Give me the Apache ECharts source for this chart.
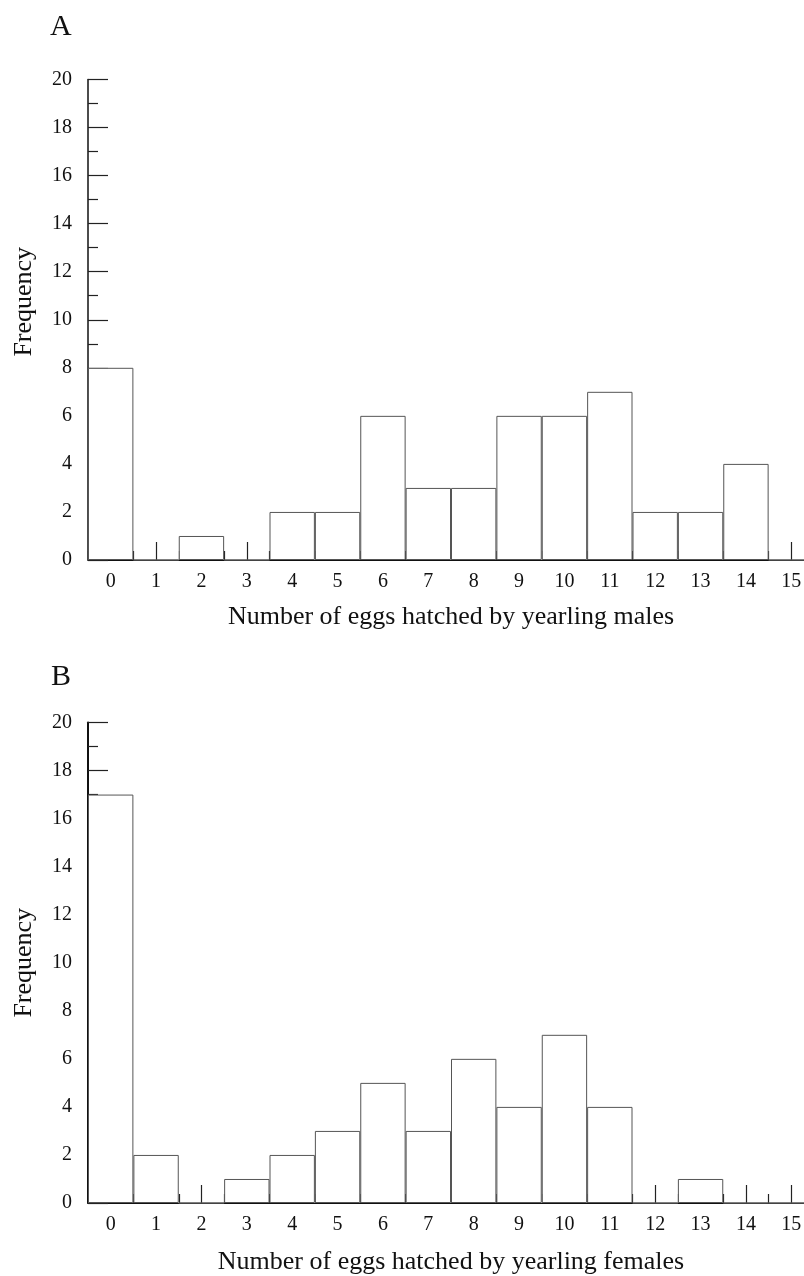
<!DOCTYPE html>
<html>
<head>
<meta charset="utf-8">
<script src="https://cdn.jsdelivr.net/npm/echarts@6/dist/echarts.min.js"></script>
<style>html,body{margin:0;padding:0;background:#fff;}#c{width:804px;height:1276px;}</style>
</head>
<body>
<div id="c"></div>
<script>
const categories = ['0','1','2','3','4','5','6','7','8','9','10','11','12','13','14','15'];
const malesFreq = [8,0,1,0,2,2,6,3,3,6,6,7,2,2,4,0];
const femalesFreq = [17,2,0,1,2,3,5,3,6,4,7,4,0,1,0,0];
const panelLabels = ['A','B'];
const xTitles = ['Number of eggs hatched by yearling males','Number of eggs hatched by yearling females'];
const yTitle = 'Frequency';

const FONT = '"Liberation Serif", "Times New Roman", serif';
const chart = echarts.init(document.getElementById('c'), null, {renderer:'canvas'});

function xAxes(gi, nameGap) {
  return [
    {
      type:'category', gridIndex: gi, data: categories,
      axisLine:{show:true, lineStyle:{color:'#111', width:1.2}},
      axisTick:{show:true, alignWithLabel:true, inside:true, length:18, lineStyle:{color:'#222', width:1.2}},
      axisLabel:{color:'#111', fontFamily:FONT, fontSize:20, margin:12, hideOverlap:false},
      name: xTitles[gi], nameLocation:'middle', nameGap: nameGap,
      nameTextStyle:{color:'#111', fontFamily:FONT, fontSize:26},
      splitLine:{show:false}
    },
    {
      type:'category', gridIndex: gi, data: categories, position:'bottom',
      axisLine:{show:false},
      axisTick:{show:true, alignWithLabel:false, inside:true, length:9, lineStyle:{color:'#222', width:1.2}},
      axisLabel:{show:false},
      splitLine:{show:false}
    }
  ];
}
function yAxis(gi, pad, lw) {
  return {
    type:'value', gridIndex: gi, min:0, max:20, interval:2,
    axisLine:{show:true, lineStyle:{color:'#111', width:lw}},
    axisTick:{show:true, inside:true, length:20, lineStyle:{color:'#222', width:1.2}},
    minorTick:{show:true, splitNumber:2, length:10, lineStyle:{color:'#222', width:1.2}},
    axisLabel:{color:'#111', fontFamily:FONT, fontSize:20, margin:16},
    splitLine:{show:false},
    name: yTitle, nameLocation:'middle', nameGap: 51, nameRotate: 90,
    nameTextStyle:{color:'#111', fontFamily:FONT, fontSize:26, padding: pad}
  };
}
function barSeries(xi, yi, data) {
  return {
    type:'bar', xAxisIndex: xi, yAxisIndex: yi, data: data,
    barCategoryGap:'0%', barGap:'0%',
    itemStyle:{color:'#fff', borderColor:'#555', borderWidth:1},
    silent:true, animation:false
  };
}

chart.setOption({
  animation:false,
  backgroundColor:'#fff',
  grid:[
    {left:88, width:726, top:79.5, height:480.5, containLabel:false, outerBoundsMode:'none'},
    {left:88, width:726, top:722.5, height:480.5, containLabel:false, outerBoundsMode:'none'}
  ],
  xAxis: [].concat(xAxes(0, 44), xAxes(1, 46)),
  yAxis: [yAxis(0, [0,0,0,36], 1.5), yAxis(1, 0, 2)],
  series: [barSeries(0, 0, malesFreq), barSeries(2, 1, femalesFreq)],
  graphic: [
    {type:'text', left:50, top:12, style:{text:panelLabels[0], font:'30px ' + FONT, fill:'#111'}},
    {type:'text', left:51, top:662, style:{text:panelLabels[1], font:'30px ' + FONT, fill:'#111'}}
  ]
});
</script>
</body>
</html>
